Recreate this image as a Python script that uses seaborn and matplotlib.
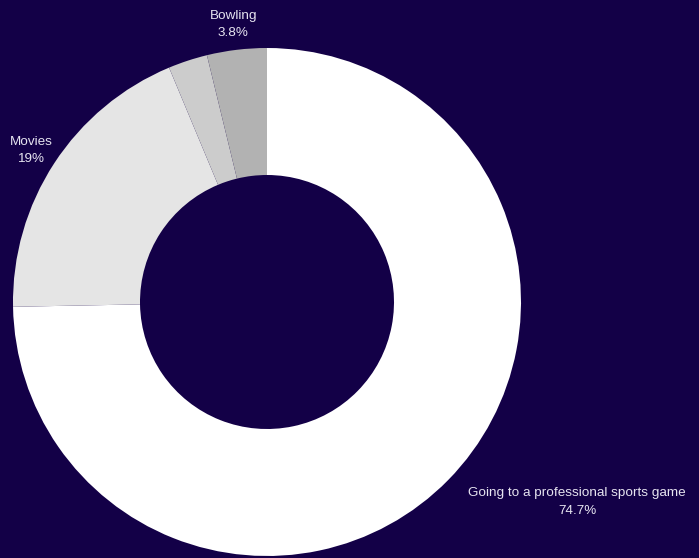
import matplotlib
matplotlib.use("Agg")
import matplotlib.pyplot as plt
import seaborn as sns
import numpy as np

# Share of respondents by preferred activity
activities = ["Going to a professional sports game", "Movies", "", "Bowling"]
shares = [74.7, 19.0, 2.5, 3.8]
share_labels = ["74.7%", "19%", "", "3.8%"]
slice_colors = ["#ffffff", "#e5e5e5", "#cccccc", "#b2b2b2"]

BG = "#130047"
TEXT = "#e6e4f0"

sns.set_theme(style="white")
plt.rcParams["font.family"] = ["Liberation Sans", "DejaVu Sans"]

W, H = 699, 558
fig = plt.figure(figsize=(W / 100, H / 100), dpi=100, facecolor=BG)
ax = fig.add_axes([0, 0, 1, 1], facecolor=BG)

cx, cy = 267, H - 302
outer_r, ring_w = 254, 127

wedges, _ = ax.pie(
    shares,
    colors=slice_colors,
    startangle=90,
    counterclock=False,
    radius=outer_r,
    center=(cx, cy),
    wedgeprops=dict(width=ring_w, linewidth=0),
)

# Labels outside the ring, placed along each slice's mid-angle
label_r = 282
ha_for = {0: "left", 1: "center", 3: "center"}
for i, (w, name, pct) in enumerate(zip(wedges, activities, share_labels)):
    if not name:
        continue
    mid = np.deg2rad((w.theta1 + w.theta2) / 2)
    x = cx + label_r * np.cos(mid)
    y = cy + label_r * np.sin(mid) - 2.5
    if i == 1:
        x = max(x, 31)
    ax.text(x, y, f"{name}\n{pct}", ha=ha_for[i], va="center",
            multialignment="center", color=TEXT, fontsize=9.7,
            linespacing=1.62)

ax.set_xlim(0, W)
ax.set_ylim(0, H)
ax.set_aspect("equal", adjustable="box")
ax.axis("off")

fig.savefig("out.png", dpi=100, facecolor=BG)
